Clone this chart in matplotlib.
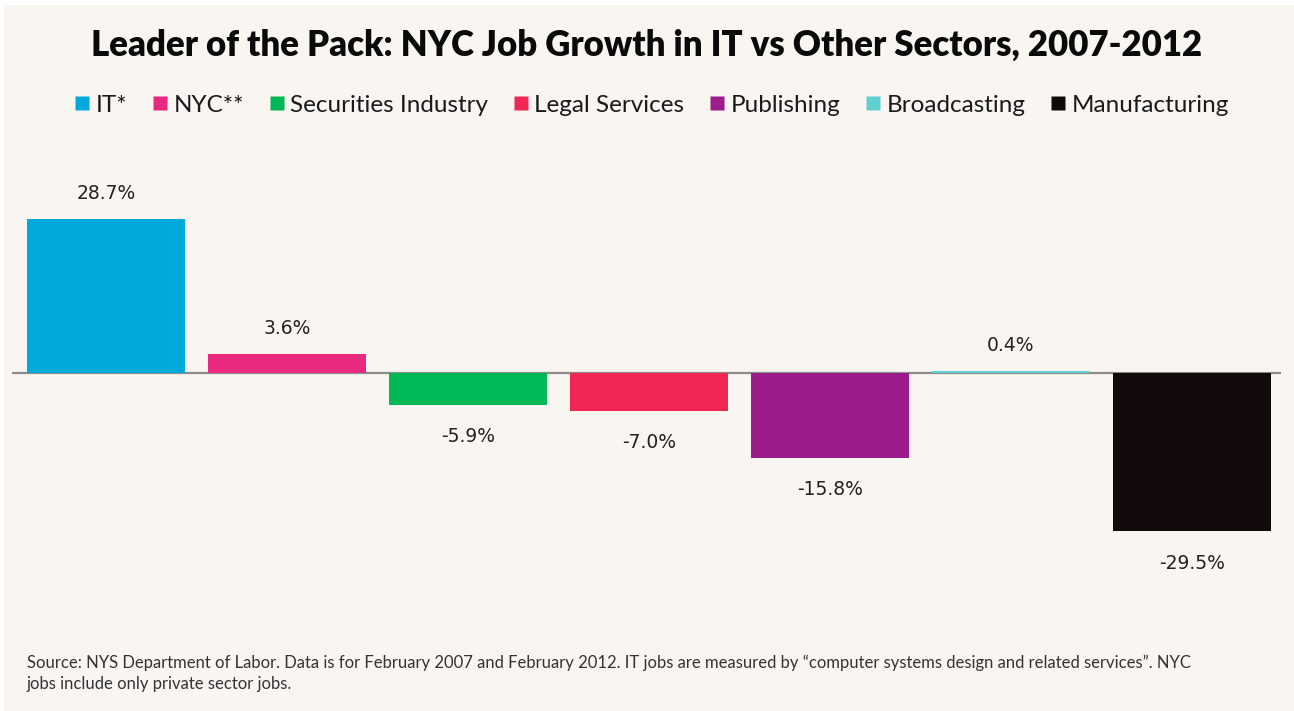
import matplotlib
matplotlib.use("Agg")
import matplotlib.pyplot as plt
from matplotlib.lines import Line2D
from matplotlib.patches import Rectangle

sectors = ["IT*", "NYC**", "Securities Industry", "Legal Services",
           "Publishing", "Broadcasting", "Manufacturing"]
growth = [28.7, 3.6, -5.9, -7.0, -15.8, 0.4, -29.5]
colors = ["#00a9dc", "#e8297f", "#00b956", "#f02654",
          "#9b1c8a", "#5fcfd1", "#120a0a"]

title = "Leader of the Pack: NYC Job Growth in IT vs Other Sectors, 2007-2012"
source = ("Source: NYS Department of Labor. Data is for February 2007 and February 2012. "
          "IT jobs are measured by \u201ccomputer systems design and related services\u201d. NYC\n"
          "jobs include only private sector jobs.")

W, H = 1294, 711
bg = "#f9f6f2"

fig = plt.figure(figsize=(W / 100, H / 100), dpi=100)
fig.patch.set_facecolor("white")
# panel background, leaving a thin white margin top and left
fig.patches.append(Rectangle((4 / W, 0), 1, 1 - 5 / H, transform=fig.transFigure,
                             facecolor=bg, edgecolor="none", zorder=-1))

ax = fig.add_axes([12 / W, (H - 600) / H, 1269 / W, 450 / H])
ax.set_facecolor("none")
x = list(range(len(sectors)))
ax.axhline(0, color="#8c8c8c", linewidth=1.6, zorder=1)
ax.bar(x, growth, width=0.873, color=colors, zorder=2)
ax.set_xlim(-0.519, 6.492)
ax.set_ylim(-42.27, 41.53)
ax.axis("off")

for xi, v in zip(x, growth):
    off = 18 if v > 0 else -23
    ax.annotate(f"{v:.1f}%", (xi, v), xytext=(0, off), textcoords="offset points",
                ha="center", va="center", fontsize=13.5, color="#222222",
                family="DejaVu Sans")

fig.text(0.5, 1 - 45 / H, title, ha="center", va="center", fontsize=25,
         fontweight="heavy", family="Lato", color="#0a0a0a")

handles = [Line2D([], [], marker="s", linestyle="none", markersize=9.5,
                  markerfacecolor=c, markeredgecolor="none") for c in colors]
fig.legend(handles, sectors, loc="center", bbox_to_anchor=(652 / W, 1 - 105 / H),
           ncol=len(sectors), frameon=False, handlelength=0.6, handletextpad=0.25,
           columnspacing=1.05, prop={"family": "Lato", "size": 17.5}, labelcolor="#1a1a1a")

fig.text(27 / W, 1 - 673 / H, source, ha="left", va="center", fontsize=12,
         family="Lato", color="#333333", linespacing=1.4)

fig.savefig("out.png", dpi=100, facecolor=fig.get_facecolor())
